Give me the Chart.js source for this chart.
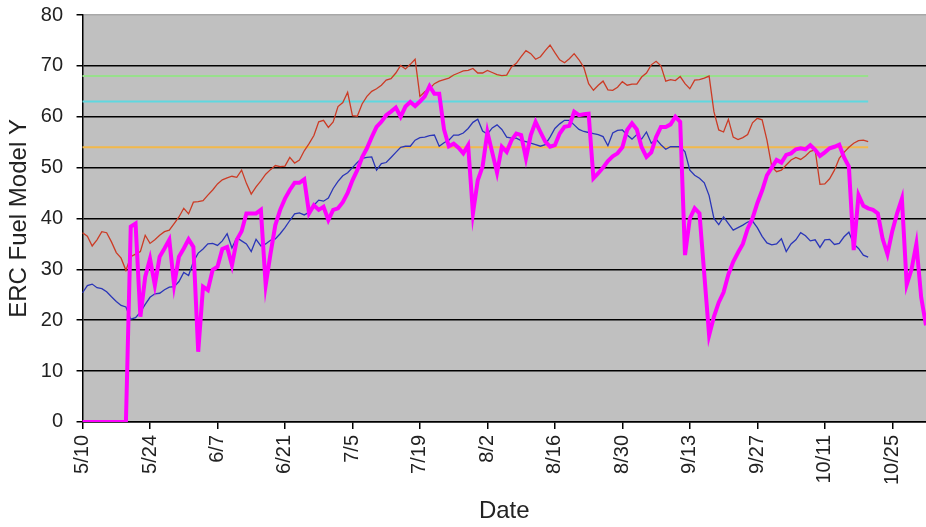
<!DOCTYPE html>
<html>
<head>
<meta charset="utf-8">
<script src="https://cdn.jsdelivr.net/npm/chart.js@4.4.1/dist/chart.umd.min.js"></script>
<style>
  body { margin: 0; background: #fff; }
  #wrap { width: 926px; height: 527px; }
</style>
</head>
<body>
<div id="wrap"><canvas id="ercChart" width="926" height="527"></canvas></div>
<script>
// daily dates, 5/10 .. 11/1
const startMonth = 5, startDay = 10, dayCount = 176;
const monthLength = { 5: 31, 6: 30, 7: 31, 8: 31, 9: 30, 10: 31, 11: 30 };
const dates = [];
let m = startMonth, d = startDay;
for (let i = 0; i < dayCount; i++) {
  dates.push(m + '/' + d);
  d++;
  if (d > monthLength[m]) { d = 1; m++; }
}
const tickEvery = 14;

const yTicks = [0, 10, 20, 30, 40, 50, 60, 70, 80];

// red line
const redSeries = [37.2,36.5,34.6,35.8,37.4,37.2,35.4,33.3,32.2,29.8,
  32.5,33,33.5,36.7,35.1,35.8,36.7,37.4,37.7,39,
  40.3,42,40.9,43.2,43.3,43.5,44.6,45.6,46.8,47.6,
  48,48.3,48.1,49.5,46.9,44.8,46.2,47.4,48.7,49.6,
  50.4,50.2,50.3,52,50.9,51.5,53.3,54.7,56.3,59,
  59.3,57.9,59,62,62.8,64.8,60.2,60.1,62.5,64,
  65,65.5,66.2,67.2,67.5,68.6,70.1,69.4,70.3,71.3,
  64,64.9,65.5,66.5,67,67.3,67.6,68.2,68.6,69,
  69.1,69.5,68.6,68.6,69.1,68.7,68.3,68.1,68.2,69.8,
  70.5,71.8,73,72.4,71.3,71.8,73,74.1,72.6,71.2,
  70.6,71.4,72.4,71.2,69.7,66.5,65.2,66.2,67,65.3,
  65.2,65.8,66.9,66.2,66.4,66.4,67.8,68.6,70.2,70.9,
  70,67,67.3,67.1,67.9,66.5,65.5,67.2,67.3,67.6,
  68,61,57.4,57,59.5,56,55.5,55.9,56.5,58.8,
  59.7,59.4,55.4,50.2,49.2,49.5,50.5,51.5,52,51.6,
  52.3,53.2,53.5,46.7,46.8,47.8,49.5,51.8,53,54,
  54.8,55.3,55.4,55.1];

// blue line
const blueSeries = [25.4,26.8,27.1,26.4,26.2,25.6,24.6,23.7,22.9,22.6,
  20.2,20.5,21.6,23.1,24.5,25.2,25.3,26,26.5,26.6,
  27.6,29.4,28.8,31.5,33.2,34,35,35.1,34.7,35.6,
  37,34.2,36.2,35.6,35,33.5,35.9,34.6,35,35.7,
  36,37,38.2,39.6,40.9,41.1,40.7,41.2,42.6,43.6,
  43.4,44,45.9,47.3,48.4,49,50,51,51.8,52,
  52.1,49.5,50.8,51,52,53,54,54.2,54.2,55.4,
  55.9,56,56.3,56.4,54.2,54.9,55.4,56.4,56.4,56.8,
  57.7,58.9,59.5,57.2,56.6,57.8,58.4,57.5,56,55.8,
  55.8,55.3,55.1,54.8,54.5,54.2,54.5,56,57.7,58.6,
  59.3,59.3,58.4,57.5,57.1,56.9,56.7,56.5,56.1,54.3,
  56.8,57.3,57.4,56.4,55.6,56.5,55.6,57,54.8,55.6,
  54.5,53.6,54.1,54.1,54.1,53.1,49.5,48.5,47.9,47,
  44.5,40,38.8,40.3,39,37.7,38.2,38.7,39.3,39.5,
  38.2,36.5,35.2,34.8,35,36,33.5,35,35.8,37.2,
  36.6,35.6,35.8,34.3,35.8,35.9,34.9,35.1,36.4,37.3,
  35,34.1,32.8,32.4];

// thick magenta line
const magentaSeries = [0,0,0,0,0,0,0,0,0,0,
  38.4,39,20.7,28.5,32.1,26.9,32.5,34.1,35.8,26.9,
  32.5,34.1,35.9,34.4,13.8,26.6,25.9,29.9,30.5,34,
  34.4,30.8,35.8,37.5,41,41,41,41.7,26.9,33.1,
  38.7,41.7,43.9,45.6,47,47,47.7,41,42.6,41.7,
  42.3,39.7,41.7,42,43.2,45,47.5,49.5,52,53.8,
  56,58,59,60.3,61,61.8,60,62,62.9,62.1,
  63,64,66,64.5,64.5,57.5,54.2,54.7,53.9,52.8,
  54.4,41,47.5,50.2,57,53,49,54.1,53.1,55.4,
  56.7,56.4,51.8,56.4,59,57,55.1,54.1,54.4,56.7,
  58,58.2,61,60.3,60.5,60.6,47.9,48.9,50,51.3,
  52.2,52.8,54,57.4,58.7,57.5,54,52.1,53,56,
  58,58,58.5,60,59,32.8,40,42,41,29,
  17,20.7,23.5,25.5,29,31.5,33.3,35,38,40,
  43,45.5,48.5,50,51.5,51,52.5,52.8,53.6,53.8,
  53.6,54.4,53.5,52.3,53,53.8,54.1,54.5,52,50.2,
  33.8,44.6,42.5,42,41.7,41,36,33,37.5,41,
  43.9,27,30,35,24.5,19];

// flat reference levels, drawn from 5/10 to the end of the red/blue record
const greenLevel = 68, cyanLevel = 63, orangeLevel = 54;
const levelEnd = redSeries.length - 1;
function levelLine(v) {
  return dates.map((_, i) => (i <= levelEnd ? v : null));
}

const plotBg = {
  id: 'plotBg',
  beforeDraw(chart) {
    const { ctx, chartArea: a } = chart;
    ctx.save();
    ctx.fillStyle = '#c0c0c0';
    ctx.fillRect(a.left, a.top, a.right - a.left, a.bottom - a.top);
    ctx.restore();
  }
};

Chart.defaults.font.family = '"Liberation Sans", Arial, sans-serif';
Chart.defaults.color = '#222';

new Chart(document.getElementById('ercChart'), {
  type: 'line',
  data: {
    labels: dates,
    datasets: [
      { data: magentaSeries, borderColor: '#ff00ff', borderWidth: 4, order: 0 },
      { data: blueSeries, borderColor: '#2a35b8', borderWidth: 1.3, order: 1 },
      { data: redSeries, borderColor: '#cc3b25', borderWidth: 1.3, order: 2 },
      { data: levelLine(greenLevel), borderColor: '#98e08c', borderWidth: 2, order: 3 },
      { data: levelLine(cyanLevel), borderColor: '#5fd8e0', borderWidth: 2, order: 3 },
      { data: levelLine(orangeLevel), borderColor: '#f2b84a', borderWidth: 2, order: 3 }
    ]
  },
  options: {
    responsive: false,
    animation: false,
    layout: { padding: { top: 15, left: 4.6, right: 0, bottom: 1.2 } },
    elements: { point: { radius: 0 }, line: { tension: 0 } },
    plugins: { legend: { display: false }, tooltip: { enabled: false } },
    scales: {
      x: {
        ticks: {
          autoSkip: false,
          maxRotation: 90,
          minRotation: 90,
          padding: 6,
          font: { size: 20 },
          callback: (v, i) => (i % tickEvery === 0 ? dates[i] : null)
        },
        grid: { drawOnChartArea: false, color: '#000', tickLength: 7, lineWidth: 1.5 },
        border: { color: '#000', width: 1.5 },
        title: { display: true, text: 'Date', font: { size: 24 }, padding: { top: 6, bottom: 0 } }
      },
      y: {
        min: 0,
        max: 80,
        afterBuildTicks: (scale) => { scale.ticks = yTicks.map(v => ({ value: v })); },
        ticks: { padding: 5, font: { size: 20, lineHeight: 1 } },
        grid: {
          color: (c) => (c.tick && c.tick.value === 80 ? '#a8a8a8' : '#000'),
          lineWidth: 1.5,
          tickLength: 14.5,
          tickColor: '#000',
          // only the 6px nearest the axis is visible; the rest is spacing before the label
          tickBorderDash: [0, 8.5, 6, 100]
        },
        border: { color: '#000', width: 1.5 },
        title: { display: true, text: 'ERC Fuel Model Y', font: { size: 24 }, padding: { top: 0, bottom: 2.4 } }
      }
    }
  },
  plugins: [plotBg]
});
</script>
</body>
</html>
